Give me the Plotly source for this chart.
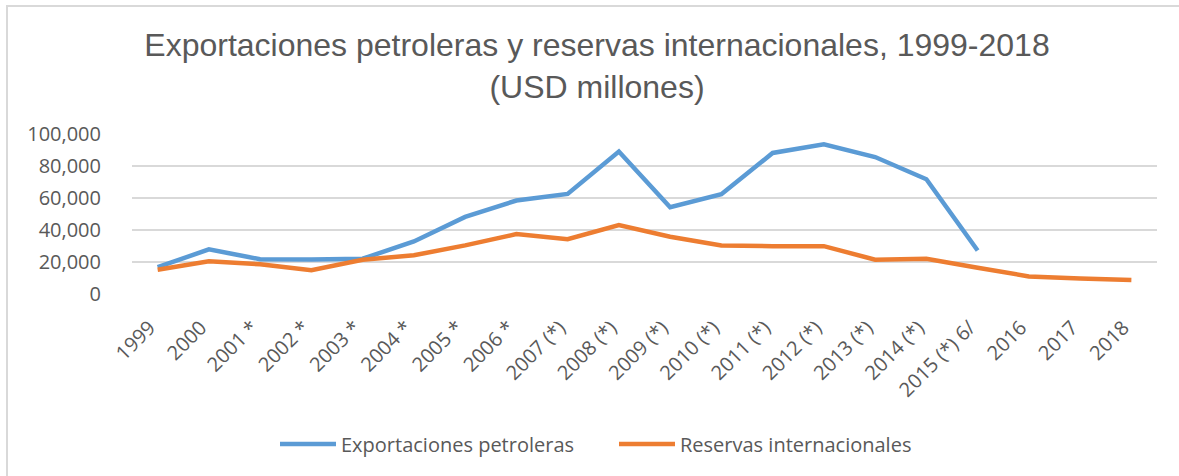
import plotly.graph_objects as go

categories = ["1999", "2000", "2001 *", "2002 *", "2003 *", "2004 *", "2005 *", "2006 *",
              "2007 (*)", "2008 (*)", "2009 (*)", "2010 (*)", "2011 (*)", "2012 (*)",
              "2013 (*)", "2014 (*)", "2015 (*) 6/", "2016", "2017", "2018"]
exportaciones = [16735, 27874, 21745, 21532, 22029, 32871, 48143, 58438, 62555, 89034,
                 54201, 62317, 88131, 93569, 85603, 71731, 27200, None, None, None]
reservas = [15164, 20471, 18523, 14860, 21366, 24208, 30368, 37440, 34286, 43127,
            35830, 30332, 29892, 29890, 21481, 22080, 16367, 10995, 9662, 8800]
y_ticks = [0, 20000, 40000, 60000, 80000, 100000]

W, H = 1179, 476
L, R, T, B = 132, 22, 134, 182
pw, ph = W - L - R, H - T - B

fig = go.Figure()
fig.add_trace(go.Scatter(x=categories, y=exportaciones, mode="lines",
                         name="Exportaciones petroleras",
                         line=dict(color="#5b9bd5", width=4.5), connectgaps=False))
fig.add_trace(go.Scatter(x=categories, y=reservas, mode="lines",
                         name="Reservas internacionales",
                         line=dict(color="#ed7d31", width=4.5)))

# outer chart border (extends beyond window right and bottom)
fig.add_shape(type="rect", xref="paper", yref="paper",
              x0=(7 - L) / pw, x1=(W + 20 - L) / pw,
              y0=-(H + 20 - T - ph) / ph, y1=1 + (T - 6) / ph,
              line=dict(color="#d9d9d9", width=2), fillcolor="rgba(0,0,0,0)", layer="below")

fig.update_layout(
    width=W, height=H,
    margin=dict(l=L, r=R, t=T, b=B, pad=0),
    paper_bgcolor="white", plot_bgcolor="white",
    title=dict(text="Exportaciones petroleras y reservas internacionales, 1999-2018<br>(USD millones)",
               x=597 / W, xanchor="center", xref="container",
               y=1 - 56 / H, yanchor="top", yref="container",
               font=dict(family="Liberation Sans, Arial", size=32, color="#595959")),
    showlegend=True,
    legend=dict(orientation="h", x=275 / W, xref="container", xanchor="left",
                y=1 - 444 / H, yref="container", yanchor="middle",
                font=dict(family="Open Sans", size=20, color="#595959"),
                itemwidth=56, entrywidth=268, entrywidthmode="pixels",
                bgcolor="rgba(0,0,0,0)"),
    xaxis=dict(type="category", range=[-0.5, len(categories) - 0.5],
               showgrid=False, showline=False, zeroline=False, ticks="",
               tickangle=-45, ticklabelstandoff=17, ticklabelshift=-8,
               tickfont=dict(family="Open Sans", size=20, color="#595959")),
    yaxis=dict(range=[0, 100000], tickvals=y_ticks, tickformat=",",
               showgrid=True, gridcolor="#d9d9d9", gridwidth=1.5,
               zeroline=False, showline=False, ticks="",
               ticklabelstandoff=30,
               tickfont=dict(family="Open Sans", size=20, color="#595959")),
)

fig.write_html("out.html", config={"displayModeBar": False},
               post_script="document.body.style.margin='0';")
